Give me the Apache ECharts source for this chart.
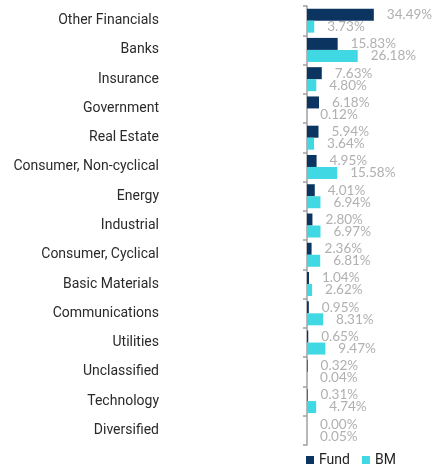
<!DOCTYPE html>
<html>
<head>
<meta charset="utf-8">
<script src="https://cdn.jsdelivr.net/npm/echarts@6/dist/echarts.min.js"></script>
<style>html,body{margin:0;padding:0;background:#fff;}#c{width:434px;height:470px;}</style>
</head>
<body>
<div id="c"></div>
<script>
const categories = ["Other Financials","Banks","Insurance","Government","Real Estate","Consumer, Non-cyclical","Energy","Industrial","Consumer, Cyclical","Basic Materials","Communications","Utilities","Unclassified","Technology","Diversified"];
const fund = [34.49,15.83,7.63,6.18,5.94,4.95,4.01,2.80,2.36,1.04,0.95,0.65,0.32,0.31,0.00];
const bm = [3.73,26.18,4.80,0.12,3.64,15.58,6.94,6.97,6.81,2.62,8.31,9.47,0.04,4.74,0.05];

const chart = echarts.init(document.getElementById('c'), null, {renderer:'canvas'});
const lbl = {
  show: true, position: 'right', distance: 13,
  color: '#b0b0b0', fontSize: 13.5, fontFamily: 'Lato',
  formatter: p => p.value.toFixed(2) + '%'
};
chart.setOption({
  animation: false,
  legend: {
    top: 453, left: 306, padding: 0, icon: 'rect', itemWidth: 8, itemHeight: 8, itemGap: 12,
    textStyle: {color: '#222', fontSize: 14, fontFamily: 'Roboto'},
    data: ['Fund','BM']
  },
  grid: {left: 307, right: 3, top: 6, bottom: 25, containLabel: false},
  xAxis: {type: 'value', min: 0, max: 64, show: false},
  yAxis: {
    type: 'category', data: categories, inverse: true,
    axisLine: {show: true, lineStyle: {color: '#a0a0a0', width: 1.5}},
    axisTick: {show: true, length: 4, lineStyle: {color: '#a0a0a0', width: 1.5}},
    axisLabel: {margin: 148, color: '#2a2a2a', fontSize: 14, fontFamily: 'Roboto'}
  },
  series: [
    {name: 'Fund', type: 'bar', data: fund, barWidth: 12, barGap: '0%', itemStyle: {color: '#0b3560'}, label: lbl},
    {name: 'BM', type: 'bar', data: bm, barWidth: 12, barGap: '0%', itemStyle: {color: '#40d8e2'}, label: lbl}
  ]
});
</script>
</body>
</html>
